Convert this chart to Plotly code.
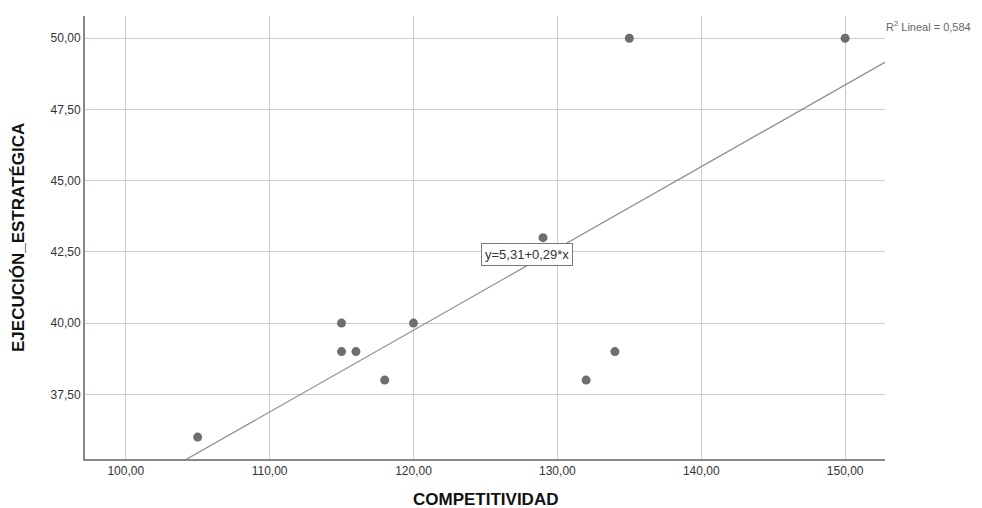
import plotly.graph_objects as go

# Data
competitividad = [105, 115, 115, 116, 118, 120, 129, 132, 134, 135, 150]
ejecucion = [36, 40, 39, 39, 38, 40, 43, 38, 39, 50, 50]
intercept = 5.31
slope = 0.287
r2_text = "R<sup>2</sup> Lineal = 0,584"
eq_text = "y=5,31+0,29*x"
x_ticks = [100, 110, 120, 130, 140, 150]
y_ticks = [37.5, 40, 42.5, 45, 47.5, 50]

x_range = [97.17, 152.77]
y_range = [35.23, 50.78]

# plot-area geometry in page pixels (page body has an 8px margin)
OFF = 8
VW, VH = 982, 508
W, H = VW - OFF, VH - OFF
PL, PR, PT, PB = 85, 885, 16, 459
L = PL - OFF
T = PT - OFF
R = W - (PR - OFF)
B = H - (PB - OFF)
PW, PH = PR - PL, PB - PT

def px(xp):
    return (xp - PL) / PW

def py(yp):
    return 1 - (yp - PT) / PH

line_x = [x_range[0] - 1, x_range[1] + 1]
line_y = [intercept + slope * v for v in line_x]

fig = go.Figure()
fig.add_trace(go.Scatter(
    x=line_x, y=line_y, mode="lines",
    line=dict(color="#8c8c8c", width=1.2),
    hoverinfo="skip", showlegend=False,
))
fig.add_trace(go.Scatter(
    x=competitividad, y=ejecucion, mode="markers",
    marker=dict(color="#6e6e6e", size=9, line=dict(width=0)),
    showlegend=False,
))

font_fam = "Liberation Sans, Arial"
fig.add_annotation(
    x=127.9, y=42.4, xref="x", yref="y", text=eq_text, showarrow=False,
    font=dict(family=font_fam, size=13, color="#333333"),
    bgcolor="white", bordercolor="#777777", borderwidth=1, borderpad=3,
)
fig.add_annotation(
    x=px(884), y=py(26), xref="paper", yref="paper", text=r2_text, showarrow=False,
    font=dict(family=font_fam, size=11, color="#666666"),
    xanchor="left", yanchor="middle",
)
fig.add_annotation(
    x=px(485), y=py(499), xref="paper", yref="paper", text="<b>COMPETITIVIDAD</b>",
    showarrow=False, font=dict(family=font_fam, size=17, color="#111111"),
    xanchor="center", yanchor="middle",
)
fig.add_annotation(
    x=px(18), y=py(238), xref="paper", yref="paper", text="<b>EJECUCIÓN_ESTRATÉGICA</b>",
    showarrow=False, textangle=-90, font=dict(family=font_fam, size=17, color="#111111"),
    xanchor="center", yanchor="middle",
)

fig.update_layout(
    width=W, height=H,
    margin=dict(l=L, r=R, t=T, b=B, autoexpand=False),
    plot_bgcolor="white", paper_bgcolor="white",
    separators=",.",
    font=dict(family=font_fam, size=12, color="#222222"),
    xaxis=dict(
        range=x_range, tickvals=x_ticks, tickformat=".2f", automargin=False,
        showgrid=True, gridcolor="#cccccc", gridwidth=1,
        showline=True, linecolor="#888888", linewidth=2,
        zeroline=False, ticks="", ticklen=0,
        tickfont=dict(size=12, color="#333333"),
    ),
    yaxis=dict(
        range=y_range, tickvals=y_ticks, tickformat=".2f", automargin=False,
        showgrid=True, gridcolor="#cccccc", gridwidth=1,
        showline=True, linecolor="#888888", linewidth=2,
        zeroline=False, ticks="", ticklen=0,
        tickfont=dict(size=12, color="#333333"),
    ),
)

fig.write_html("out.html")
